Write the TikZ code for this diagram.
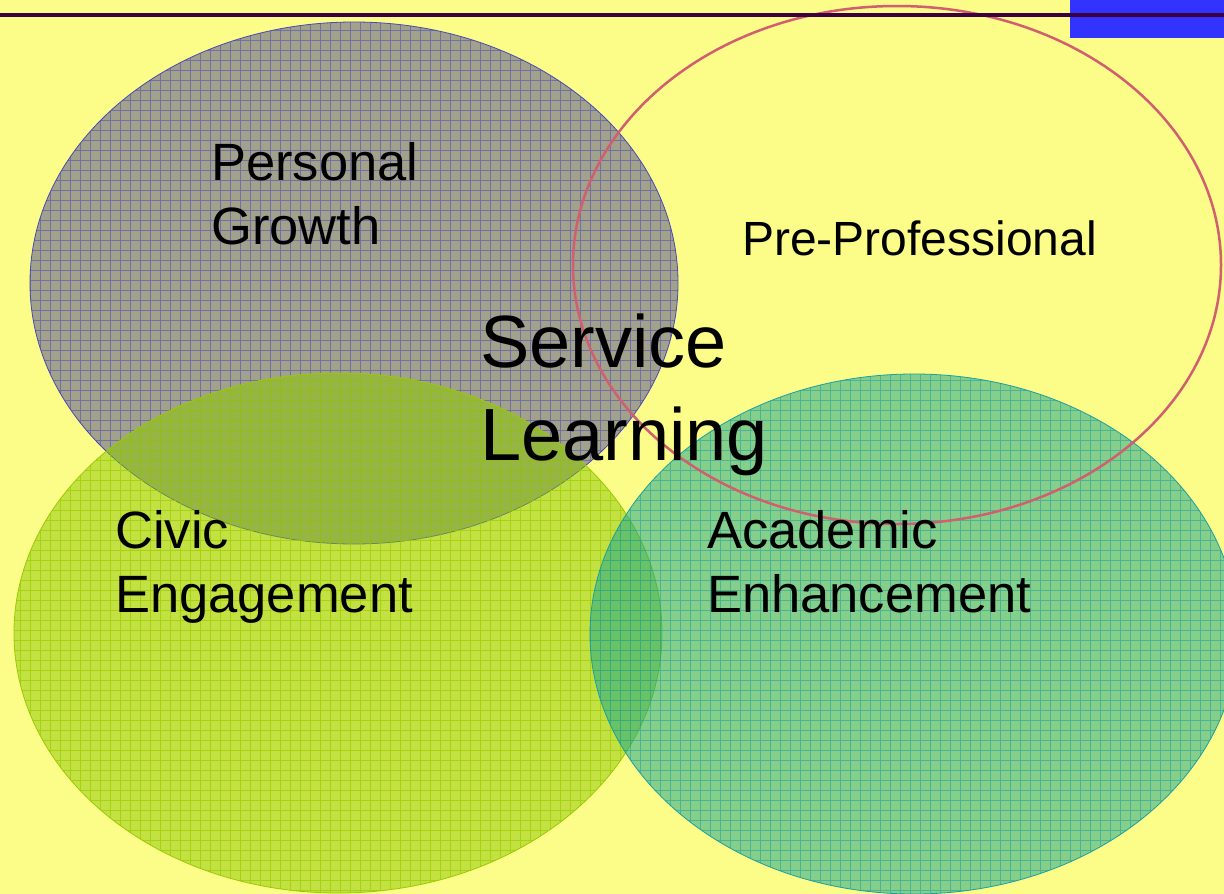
\documentclass[tikz,border=0pt]{standalone}
\usepackage{fontspec}
\setmainfont{Liberation Sans}
\definecolor{bgyellow}{HTML}{FCFC88}
\definecolor{pgfill}{HTML}{A2A28C}
\definecolor{pgline}{HTML}{4848B8}
\definecolor{cefill}{RGB}{140,200,0}
\definecolor{celine}{HTML}{99CC00}
\definecolor{aefill}{RGB}{16,164,140}
\definecolor{aeline}{HTML}{1AA0A0}
\definecolor{ppline}{HTML}{D06070}
\definecolor{topbar}{HTML}{3C0040}
\definecolor{corner}{HTML}{3333FF}
\begin{document}
\begin{tikzpicture}[x=1pt,y=-1pt,
  lbl/.style={inner sep=0pt, anchor=base west, align=left, text=black},
  gridlines/.style={line width=0.75pt, step=10pt}]
\useasboundingbox (0,0) rectangle (1224,894);
\fill[bgyellow] (0,0) rectangle (1224,894);

% Personal Growth
\begin{scope}
  \fill[pgfill] (354,283) ellipse [x radius=324pt, y radius=261pt];
  \clip (354,283) ellipse [x radius=324pt, y radius=261pt];
  \draw[gridlines, line width=0.6pt, pgline, opacity=0.55] (0,0) grid (1224,894);
\end{scope}
\draw[pgline, line width=0.8pt] (354,283) ellipse [x radius=324pt, y radius=261pt];

% Civic Engagement
\begin{scope}[opacity=0.5]
  \fill[cefill] (338,633) ellipse [x radius=324pt, y radius=260pt];
\end{scope}
\begin{scope}
  \clip (338,633) ellipse [x radius=324pt, y radius=260pt];
  \draw[gridlines, celine, opacity=0.7] (0,0) grid (1224,894);
\end{scope}
\draw[celine, line width=0.8pt] (338,633) ellipse [x radius=324pt, y radius=260pt];

% Academic Enhancement
\begin{scope}[opacity=0.5]
  \fill[aefill] (914,634) ellipse [x radius=324pt, y radius=260pt];
\end{scope}
\begin{scope}
  \clip (914,634) ellipse [x radius=324pt, y radius=260pt];
  \draw[gridlines, aeline, opacity=0.55] (0,0) grid (1224,894);
\end{scope}
\draw[aeline, line width=0.8pt] (914,634) ellipse [x radius=324pt, y radius=260pt];

% Pre-Professional outline
\draw[ppline, line width=2.5pt] (897,265) ellipse [x radius=324pt, y radius=259pt];

% header bar and corner block
\fill[corner] (1070,0) rectangle (1224,37.5);
\draw[topbar, line width=4pt] (0,15.3) -- (1224,15.3);

% labels
\node[lbl, font=\fontsize{52.5}{64}\selectfont] (pg) at (211,244) {Personal\\Growth};
\node[lbl, font=\fontsize{48}{58}\selectfont] (pp) at (742,255) {Pre-Professional};
\node[lbl, font=\fontsize{74}{93}\selectfont] (sl) at (480,460) {Service\\Learning};
\node[lbl, font=\fontsize{52.5}{64}\selectfont] (ce) at (115,612) {Civic\\Engagement};
\node[lbl, font=\fontsize{52.5}{64}\selectfont] (ae) at (707,612) {Academic\\Enhancement};
\end{tikzpicture}
\end{document}
